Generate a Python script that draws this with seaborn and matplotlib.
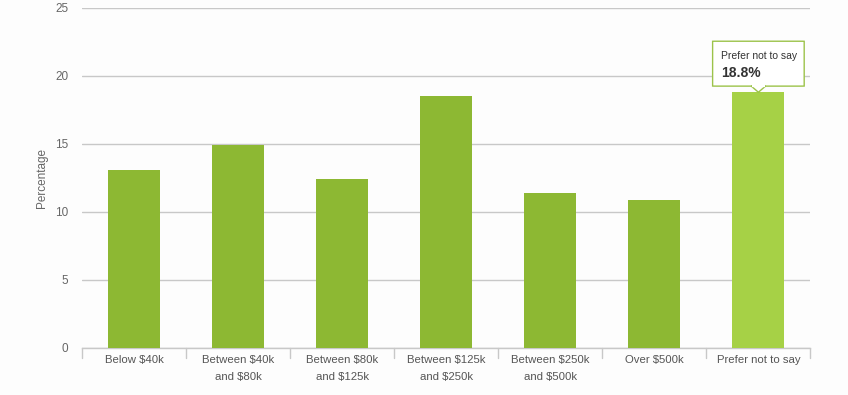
import pandas as pd
import seaborn as sns
import matplotlib.pyplot as plt
from matplotlib.patches import FancyBboxPatch, Polygon

# Datos
categorias = ['Below $40k', 'Between $40k\nand $80k', 'Between $80k\nand $125k',
              'Between $125k\nand $250k', 'Between $250k\nand $500k', 'Over $500k',
              'Prefer not to say']
porcentajes = [13.1, 14.9, 12.4, 18.5, 11.4, 10.9, 18.8]
resaltado = 6  # barra con el tooltip
y_ticks = [0, 5, 10, 15, 20, 25]

datos = pd.DataFrame({'categoria': categorias, 'porcentaje': porcentajes})
colores = ['#a6d146' if i == resaltado else '#8db833' for i in range(len(categorias))]

sns.set_style('white')
plt.rcParams['font.family'] = ['Liberation Sans', 'DejaVu Sans']

fig = plt.figure(figsize=(8.48, 3.95), dpi=100)
fig.patch.set_facecolor('#fdfdfd')
ax = fig.add_axes([0.0967, 0.119, 0.859, 0.861])
ax.set_facecolor('#fdfdfd')

sns.barplot(data=datos, x='categoria', y='porcentaje', hue='categoria',
            palette=colores, legend=False, width=0.5, saturation=1,
            linewidth=0, ax=ax, zorder=3)

ax.set_ylim(0, 25)
ax.set_xlim(-0.5, len(categorias) - 0.5)
ax.set_yticks(y_ticks)
ax.yaxis.grid(True, color='#c8c8c8', linewidth=1)
ax.set_axisbelow(True)
for s in ['top', 'right', 'left']:
    ax.spines[s].set_visible(False)
ax.spines['bottom'].set_color('#c8c8c8')
ax.spines['bottom'].set_linewidth(1)

ax.tick_params(axis='y', length=0, labelsize=8.5, labelcolor='#666666', pad=10)
ax.tick_params(axis='x', length=0, labelsize=8.2, labelcolor='#555555', pad=5)
for t in ax.get_xticklabels():
    t.set_linespacing(1.9)
ax.set_xlabel('')
ax.set_ylabel('Percentage', fontsize=8.5, color='#666666', labelpad=5)

# Marcas entre categorías
for i in range(len(categorias) + 1):
    ax.plot([i - 0.5, i - 0.5], [0, -0.75], color='#c8c8c8', lw=1,
            clip_on=False, zorder=2)

# Tooltip
v = porcentajes[resaltado]
bx0, bx1 = resaltado - 0.44, resaltado + 0.44
by0, by1 = v + 0.45, v + 3.75
caja = FancyBboxPatch((bx0, by0), bx1 - bx0, by1 - by0,
                      boxstyle='round,pad=0,rounding_size=0.04',
                      facecolor='white', edgecolor='#9cc34a', lw=1, zorder=5,
                      mutation_aspect=13.6 / 104)
ax.add_patch(caja)
punta = Polygon([[resaltado - 0.07, by0 + 0.01], [resaltado + 0.07, by0 + 0.01],
                 [resaltado, v]], closed=True, facecolor='white',
                edgecolor='#9cc34a', lw=1, zorder=5)
ax.add_patch(punta)
ax.plot([resaltado - 0.065, resaltado + 0.065], [by0, by0], color='white', lw=1.6,
        zorder=6, solid_capstyle='butt')
ax.text(bx0 + 0.08, by1 - 1.05, 'Prefer not to say', fontsize=7.5,
        color='#333333', va='center', zorder=7)
ax.text(bx0 + 0.08, by1 - 2.3, f'{v}%', fontsize=10, fontweight='bold',
        color='#333333', va='center', zorder=7)

fig.savefig('out.png', dpi=100, facecolor=fig.get_facecolor())
